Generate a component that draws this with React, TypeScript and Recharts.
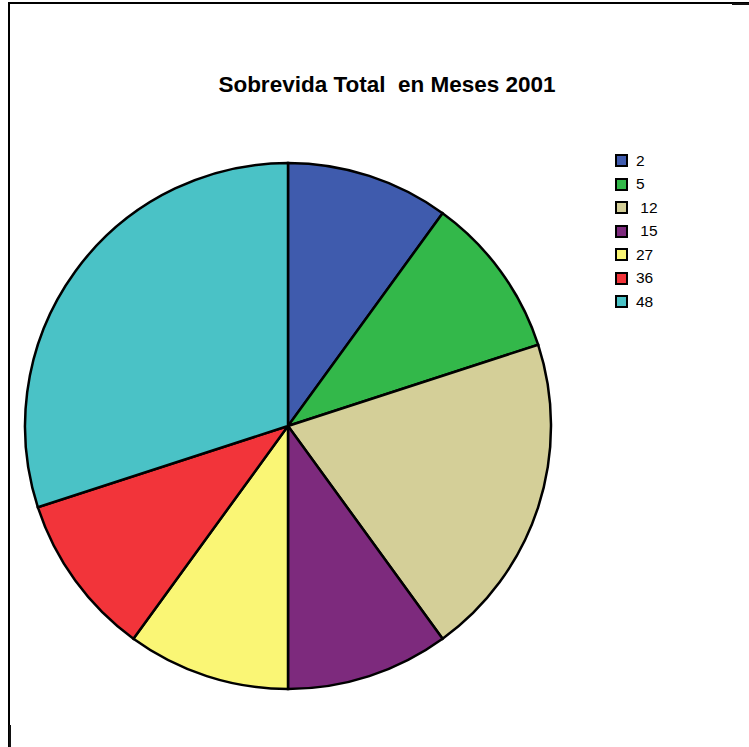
import { Cell, Legend, Pie, PieChart } from "recharts";

const months = ["2", "5", "12", "15", "27", "36", "48"];
const legendLabels = ["2", "5", " 12", " 15", "27", "36", "48"];
const patients = [1, 1, 2, 1, 1, 1, 3];
const sliceColors = ["#3F5BAD", "#33B84A", "#D4CF98", "#7D2A7D", "#FAF675", "#F2343A", "#4AC2C6"];

const chartData = months.map((month, index) => ({
  name: legendLabels[index],
  month,
  value: patients[index],
}));

function SquareLegend({ payload }: { payload?: Array<{ value: string; color: string }> }) {
  if (!payload?.length) {
    return null;
  }

  return (
    <div style={{ fontFamily: "'Liberation Sans', Arial, sans-serif", fontSize: 15 }}>
      {payload.map((item, index) => (
        <div key={index} style={{ display: "flex", alignItems: "center", height: 23.5 }}>
          <span
            style={{
              display: "inline-block",
              width: 9,
              height: 9,
              background: sliceColors[index],
              border: "2px solid #000",
              marginRight: 8,
            }}
          />
          <span style={{ whiteSpace: "pre", color: "#000", fontSize: 15.5 }}>{chartData[index].name}</span>
        </div>
      ))}
    </div>
  );
}

export default function App() {
  return (
    <div style={{ position: "absolute", left: 0, top: 0, width: 749, height: 747, background: "#fff" }}>
      <div style={{ position: "absolute", left: 8, top: 2, width: 741, height: 1.5, background: "#000" }} />
      <div style={{ position: "absolute", left: 8, top: 2, width: 1.5, height: 745, background: "#000" }} />
      <div style={{ position: "absolute", left: 732, top: 3, width: 17, height: 2, background: "#111" }} />
      <div style={{ position: "absolute", left: 9, top: 725, width: 2, height: 22, background: "#111" }} />
      <div
        style={{
          position: "absolute",
          left: 0,
          top: 72,
          width: 774,
          textAlign: "center",
          fontFamily: "'Liberation Sans', Arial, sans-serif",
          fontWeight: "bold",
          fontSize: 22.5,
          whiteSpace: "pre",
          color: "#000",
        }}
      >
        Sobrevida Total  en Meses 2001
      </div>
      <PieChart width={749} height={747} margin={{ top: 0, right: 0, bottom: 0, left: 0 }}>
        <Pie
          data={chartData}
          dataKey="value"
          nameKey="name"
          cx={288}
          cy={426}
          outerRadius={263}
          startAngle={90}
          endAngle={-270}
          stroke="#000"
          strokeWidth={2.5}
          isAnimationActive={false}
        >
          {chartData.map((entry, index) => (
            <Cell key={entry.month} fill={sliceColors[index]} />
          ))}
        </Pie>
        <Legend
          layout="vertical"
          content={<SquareLegend />}
          wrapperStyle={{ position: "absolute", left: 615, top: 149, width: 80 }}
        />
      </PieChart>
    </div>
  );
}
